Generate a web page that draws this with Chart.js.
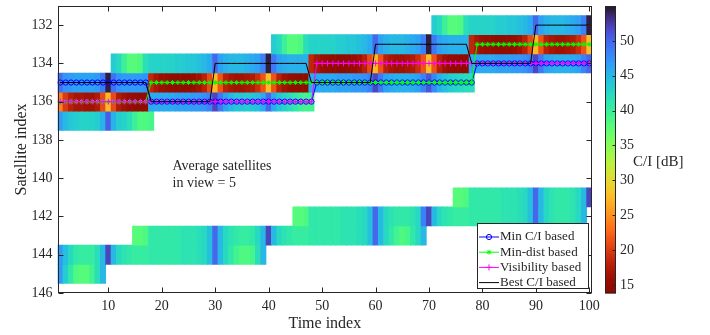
<!DOCTYPE html>
<html><head><meta charset="utf-8">
<script src="https://cdn.jsdelivr.net/npm/chart.js@4.4.1/dist/chart.umd.min.js"></script>
<style>html,body{margin:0;padding:0;background:#fff;}canvas{display:block;}</style>
</head><body>
<canvas id="c" width="710" height="335"></canvas>
<script>
// ---------- data ----------
const timeIdx = [1,2,3,4,5,6,7,8,9,10,11,12,13,14,15,16,17,18,19,20,21,22,23,24,25,26,27,28,29,30,31,32,33,34,35,36,37,38,39,40,41,42,43,44,45,46,47,48,49,50,51,52,53,54,55,56,57,58,59,60,61,62,63,64,65,66,67,68,69,70,71,72,73,74,75,76,77,78,79,80,81,82,83,84,85,86,87,88,89,90,91,92,93,94,95,96,97,98,99,100];
const xTicks = [10,20,30,40,50,60,70,80,90,100];
const yTicks = [132,134,136,138,140,142,144,146];
const cbTicks = [15,20,25,30,35,40,45,50];

// selected satellite per time index
const minCI = [135,135,135,135,135,135,135,135,135,135, 135,135,135,135,135,135,135,136,136,136, 136,136,136,136,136,136,136,136,136,136, 136,136,136,136,136,136,136,136,136,136, 136,136,136,136,136,136,136,136,135,135, 135,135,135,135,135,135,135,135,135,135, 135,135,135,135,135,135,135,135,135,135, 135,135,135,135,135,135,135,135,134,134, 134,134,134,134,134,134,134,134,134,134, 134,134,134,134,134,134,134,134,134,134];
const minDist = [136,136,136,136,136,136,136,136,136,136, 136,136,136,136,136,136,136,135,135,135, 135,135,135,135,135,135,135,135,135,135, 135,135,135,135,135,135,135,135,135,135, 135,135,135,135,135,135,135,135,135,135, 135,135,135,135,135,135,135,135,135,135, 135,135,135,135,135,135,135,135,135,135, 135,135,135,135,135,135,135,135,133,133, 133,133,133,133,133,133,133,133,133,133, 133,133,133,133,133,133,133,133,133,133];
const visibility = [136,136,136,136,136,136,136,136,136,136, 136,136,136,136,136,136,136,136,136,136, 136,136,136,136,136,136,136,136,136,136, 136,136,136,136,136,136,136,136,136,136, 136,136,136,136,136,136,136,136,134,134, 134,134,134,134,134,134,134,134,134,134, 134,134,134,134,134,134,134,134,134,134, 134,134,134,134,134,134,134,134,134,134, 134,134,134,134,134,134,134,134,134,134, 134,134,134,134,134,134,134,134,134,134];
const bestCI = [135,135,135,135,135,135,135,135,135,135, 135,135,135,135,135,135,135,136,136,136, 136,136,136,136,136,136,136,136,136,134, 134,134,134,134,134,134,134,134,134,134, 134,134,134,134,134,134,134,135,135,135, 135,135,135,135,135,135,135,135,135,133, 133,133,133,133,133,133,133,133,133,133, 133,133,133,133,133,133,133,134,134,134, 134,134,134,134,134,134,134,134,134,132, 132,132,132,132,132,132,132,132,132,132];

// C/I [dB] per satellite over its visibility window
const satellites = [132,133,134,135,136,137,141,142,143,144,145];
const firstTime  = [71,41,11,1,1,1,75,45,15,1,1];
const ci132 = [43.5,42.5,40,38,38,38.5,42,43,43,43,43,43,43.5,43.5,44,44,44.5,45,46,50,46.5,45.5,45,45,45,45.5,46,46.5,48.5,54.5];
const ci133 = [43.5,42.5,40,38,38,38.5,42, 43,43,43,43,43,43.5,43.5,44,44,44.5,45,46,50,46.5,45.5,45,45,45,45.5,46,46.5,48.5,54.5,49,46.5,46,45.5,45.5,45.5,45.5, 18.5,17,16,15.5,15,14.5,14.5,15,15.5,16.5,18,21,27.5,21.5,18,17,16.5,16.5,17,17.5,19,21.5,28];
const ci134 = [43.5,42.5,40,38,38,38.5,42, 43,43,43,43,43,43.5,43.5,44,44,44.5,45,46,50,46.5,45.5,45,45,45,45.5,46,46.5,48.5,54.5,49,46.5,46,45.5,45.5,45.5,45.5, 18.5,17,16,15.5,15,14.5,14.5,15,15.5,16.5,18,21,27.5,21.5,18,17,16.5,16.5,17,17.5,19,21.5,28,21.5,18,16.5,15.5,15,14.5,14.5, 46,46,46,46,46,46.5,46.5,46.5,47,47,47.5,48.5,52,49,46.5,46,45.5,45.5,45.5,46,46.5,48.5,50];
const ci135 = [49.5,47.5,47,46.5,46.5,46.5,46.5,47,49,54.5,49.5,47.5,47,47,47,47,47.5, 18.5,17,16,15.5,15,14.5,14.5,15,15.5,16.5,18,21,27.5,21.5,18,17,16.5,16.5,17,17.5,19,21.5,28,21.5,18,16.5,15.5,15,14.5,14.5, 46,46,46,46,46,46.5,46.5,46.5,47,47,47.5,48.5,52,49,46.5,46,45.5,45.5,45.5,46,46.5,48.5,51,48,45.5,44.5,43.5,43,42.5,42,42];
const ci136 = [24,20,18,17,17,16.5,16.5,17.5,21,27.5,21,17.5,16.5,15.5,15,14.5,14.5, 46,46,46,46,46,46.5,46.5,46.5,47,47,47.5,48.5,52,49,46.5,45,44,44,43.5,44,44.5,46,50,46,44,43,42,41,40,39.5,39.5];
const ci137 = [47,45,44,43.5,43,43,43,43.5,45.5,50.5,45.5,43.5,43,42,40,38.5,38.5,39];
const ci141 = [38,38,38.5,41,41,41,41,41,41,41.5,41.5,41.5,42,42.5,44.5,50,45,42.5,41.5,41,41,41,41.5,42.5,45,52];
const ci142 = [38,38,38.5,41,41,41,41,41,41,41.5,41.5,41.5,42,42.5,44.5,50,45,42.5,41.5,41,41,41,41.5,42.5,48.5,52,45,42.5,41.5,41,40.5,40.5,40.5,41,41,41,41,41,41,41.5,41.5,41.5,42,42.5,44.5,50,45,42.5,41.5,41,41,41,41.5,42.5,45];
const ci143 = [38,38,38.5,41,41,41,41,41,41,41.5,41.5,41.5,42,42.5,44.5,50,45,42.5,41.5,41,40.5,40.5,41,42.5,45,52,45,42.5,41.5,41,40.5,40.5,40.5,41,41,41,41,41,41,41.5,41.5,41.5,42,42.5,44.5,50,45,42.5,41,39.5,38.5,39,41,42.5,45];
const ci144 = [47,44.5,42.5,41,40.5,40.5,40.5,42,45,52,45,42.5,41.5,41,40.5,40.5,40.5,41,41,41,41,41,41,41.5,41.5,41.5,42,42.5,44.5,50,45,42.5,41,39.5,38.5,38.5,39,42,45];
const ci145 = [47,43.5,41,38.5,38,38,39.5,42,45];
const ciRows = [ci132,ci133,ci134,ci135,ci136,ci137,ci141,ci142,ci143,ci144,ci145];

// ---------- styling ----------
const FONT = 'Liberation Serif';
const TXT = '#262626';
const CB_MIN = 13.85, CB_MAX = 55;
Chart.defaults.font.family = FONT;
Chart.defaults.color = TXT;

function turbo(t){
  const r = 0.13572138 + t*(4.61539260 + t*(-42.66032258 + t*(132.13108234 + t*(-152.94239396 + t*59.28637943))));
  const g = 0.09140261 + t*(2.19418839 + t*(4.84296658 + t*(-14.18503333 + t*(4.27729857 + t*2.82956604))));
  const b = 0.10667330 + t*(12.64194608 + t*(-60.58204836 + t*(110.36276771 + t*(-89.90310912 + t*27.34824973))));
  const c = z => Math.round(255*Math.max(0, Math.min(1, z)));
  return 'rgb(' + c(r) + ',' + c(g) + ',' + c(b) + ')';
}
function ciColor(v){
  let n = (v - CB_MIN)/(CB_MAX - CB_MIN);
  n = Math.max(0, Math.min(1, n));
  return turbo(1 - n);
}

const heatSets = satellites.map((sat, k) => ({
  type: 'bar', order: 10, grouped: false,
  barPercentage: 1, categoryPercentage: 1, borderWidth: 0,
  data: ciRows[k].map((v, i) => ({ x: timeIdx[firstTime[k] - 1 + i], y: [sat - 0.5, sat + 0.5] })),
  backgroundColor: ciRows[k].map(ciColor)
}));

const lineDefs = [
  { label: 'Min C/I based',   vals: minCI,      color: '#0000ff', style: 'circle', r: 2.6, order: 3 },
  { label: 'Min-dist based',  vals: minDist,    color: '#00ff00', style: 'star',   r: 2.4, order: 2 },
  { label: 'Visibility based',vals: visibility, color: '#ff00ff', style: 'cross',  r: 3,   order: 1 },
  { label: 'Best C/I based',  vals: bestCI,     color: '#000000', style: 'circle', r: 0,   order: 0 }
];
const lineSets = lineDefs.map(d => ({
  type: 'line', label: d.label, order: d.order,
  data: timeIdx.map((t, i) => ({ x: t, y: d.vals[i] })),
  borderColor: d.color, borderWidth: 1, tension: 0, fill: false,
  pointStyle: d.style, pointRadius: d.r, pointBorderWidth: 1,
  pointBorderColor: d.color, pointBackgroundColor: 'rgba(0,0,0,0)'
}));

function drawMarker(ctx, style, x, y, r, color){
  if (!r) return;
  ctx.strokeStyle = color; ctx.lineWidth = 1;
  ctx.beginPath();
  if (style === 'circle') { ctx.arc(x, y, r, 0, Math.PI*2); }
  if (style === 'cross' || style === 'star') { ctx.moveTo(x - r, y); ctx.lineTo(x + r, y); ctx.moveTo(x, y - r); ctx.lineTo(x, y + r); }
  if (style === 'star') { const q = r*0.707; ctx.moveTo(x-q,y-q); ctx.lineTo(x+q,y+q); ctx.moveTo(x-q,y+q); ctx.lineTo(x+q,y-q); }
  ctx.stroke();
}

const decor = {
  id: 'decor',
  afterDraw(chart){
    const { ctx, chartArea: a, scales: { x, y, cb } } = chart;
    ctx.save();
    // frame
    ctx.strokeStyle = TXT; ctx.lineWidth = 1;
    const L = Math.round(a.left) + 0.5, R = Math.round(a.right) - 0.5, T = Math.round(a.top) + 0.5, B = Math.round(a.bottom) - 0.5;
    ctx.strokeRect(L, T, R - L, B - T);
    ctx.beginPath();
    xTicks.forEach(v => { const px = Math.round(x.getPixelForValue(v)) + 0.5; ctx.moveTo(px, B); ctx.lineTo(px, B - 5); ctx.moveTo(px, T); ctx.lineTo(px, T + 5); });
    yTicks.forEach(v => { const py = Math.round(y.getPixelForValue(v)) + 0.5; ctx.moveTo(L, py); ctx.lineTo(L + 5, py); ctx.moveTo(R, py); ctx.lineTo(R - 5, py); });
    ctx.stroke();

    // colorbar
    const cx0 = 605, cx1 = 616;
    const step = 0.05;
    for (let v = CB_MIN; v < CB_MAX; v += step) {
      const ya = cb.getPixelForValue(v), yb = cb.getPixelForValue(Math.min(v + step, CB_MAX));
      ctx.fillStyle = ciColor(v + step/2);
      ctx.fillRect(cx0, yb, cx1 - cx0, ya - yb + 0.6);
    }
    ctx.strokeStyle = TXT;
    ctx.strokeRect(cx0 + 0.5, Math.round(cb.top) + 0.5, cx1 - cx0 - 1, Math.round(cb.bottom) - Math.round(cb.top) - 1);
    ctx.beginPath();
    cbTicks.forEach(v => { const py = Math.round(cb.getPixelForValue(v)) + 0.5; ctx.moveTo(cx1 - 0.5, py); ctx.lineTo(cx1 - 3.5, py); });
    ctx.stroke();
    ctx.fillStyle = TXT; ctx.font = '15px "' + FONT + '"'; ctx.textAlign = 'left'; ctx.textBaseline = 'middle';
    ctx.fillText('C/I [dB]', 633, 162);

    // annotation
    ctx.font = '14px "' + FONT + '"'; ctx.textBaseline = 'alphabetic';
    ctx.fillText('Average satellites', 172.5, 170);
    ctx.fillText('in view = 5', 172.5, 187);

    // legend
    const bx = 477.5, by = 223.5, bw = 111, bh = 65;
    ctx.fillStyle = '#ffffff'; ctx.fillRect(bx, by, bw, bh);
    ctx.strokeStyle = TXT; ctx.strokeRect(bx, by, bw, bh);
    ctx.font = '13px "' + FONT + '"'; ctx.textBaseline = 'middle';
    lineDefs.forEach((d, i) => {
      const ly = 237 + i*15.2;
      ctx.strokeStyle = d.color; ctx.lineWidth = 1;
      ctx.beginPath(); ctx.moveTo(479, ly); ctx.lineTo(499, ly); ctx.stroke();
      drawMarker(ctx, d.style, 489, ly, d.r, d.color);
      ctx.fillStyle = TXT; ctx.fillText(d.label, 500, ly);
    });
    ctx.restore();
  }
};

const noPad = s => { s.paddingTop = 0; s.paddingBottom = 0; };

new Chart(document.getElementById('c'), {
  type: 'bar',
  data: { datasets: [...lineSets, ...heatSets] },
  options: {
    responsive: false, animation: false, devicePixelRatio: 1,
    layout: { padding: { top: 6, right: 8, bottom: 0, left: 0 } },
    plugins: { legend: { display: false }, tooltip: { enabled: false } },
    scales: {
      x: {
        type: 'linear', min: 0.5, max: 100.5, offset: false,
        afterBuildTicks: s => { s.ticks = xTicks.map(v => ({ value: v })); },
        afterFit: s => { s.height = 42; s.paddingLeft = 0; s.paddingRight = 0; },
        grid: { display: false, drawTicks: false }, border: { display: false },
        ticks: { font: { size: 14 }, color: TXT, padding: 5, maxRotation: 0, autoSkip: false },
        title: { display: true, text: 'Time index', font: { size: 16 }, color: TXT, padding: { top: 0, bottom: 2 } }
      },
      y: {
        type: 'linear', reverse: true, min: 131, max: 146, offset: false,
        afterBuildTicks: s => { s.ticks = yTicks.map(v => ({ value: v })); },
        afterFit: s => { s.width = 57.6; noPad(s); },
        grid: { display: false, drawTicks: false }, border: { display: false },
        ticks: { font: { size: 14 }, color: TXT, padding: 5, autoSkip: false },
        title: { display: true, text: 'Satellite index', font: { size: 16 }, color: TXT, padding: { top: 12, bottom: 0 } }
      },
      cb: {
        type: 'linear', axis: 'y', position: 'right', min: CB_MIN, max: CB_MAX, offset: false,
        afterBuildTicks: s => { s.ticks = cbTicks.map(v => ({ value: v })); },
        afterFit: s => { s.width = 110; noPad(s); },
        grid: { display: false, drawTicks: false }, border: { display: false },
        ticks: { font: { size: 14 }, color: TXT, padding: 28, autoSkip: false }
      }
    }
  },
  plugins: [decor]
});
</script>
</body></html>
